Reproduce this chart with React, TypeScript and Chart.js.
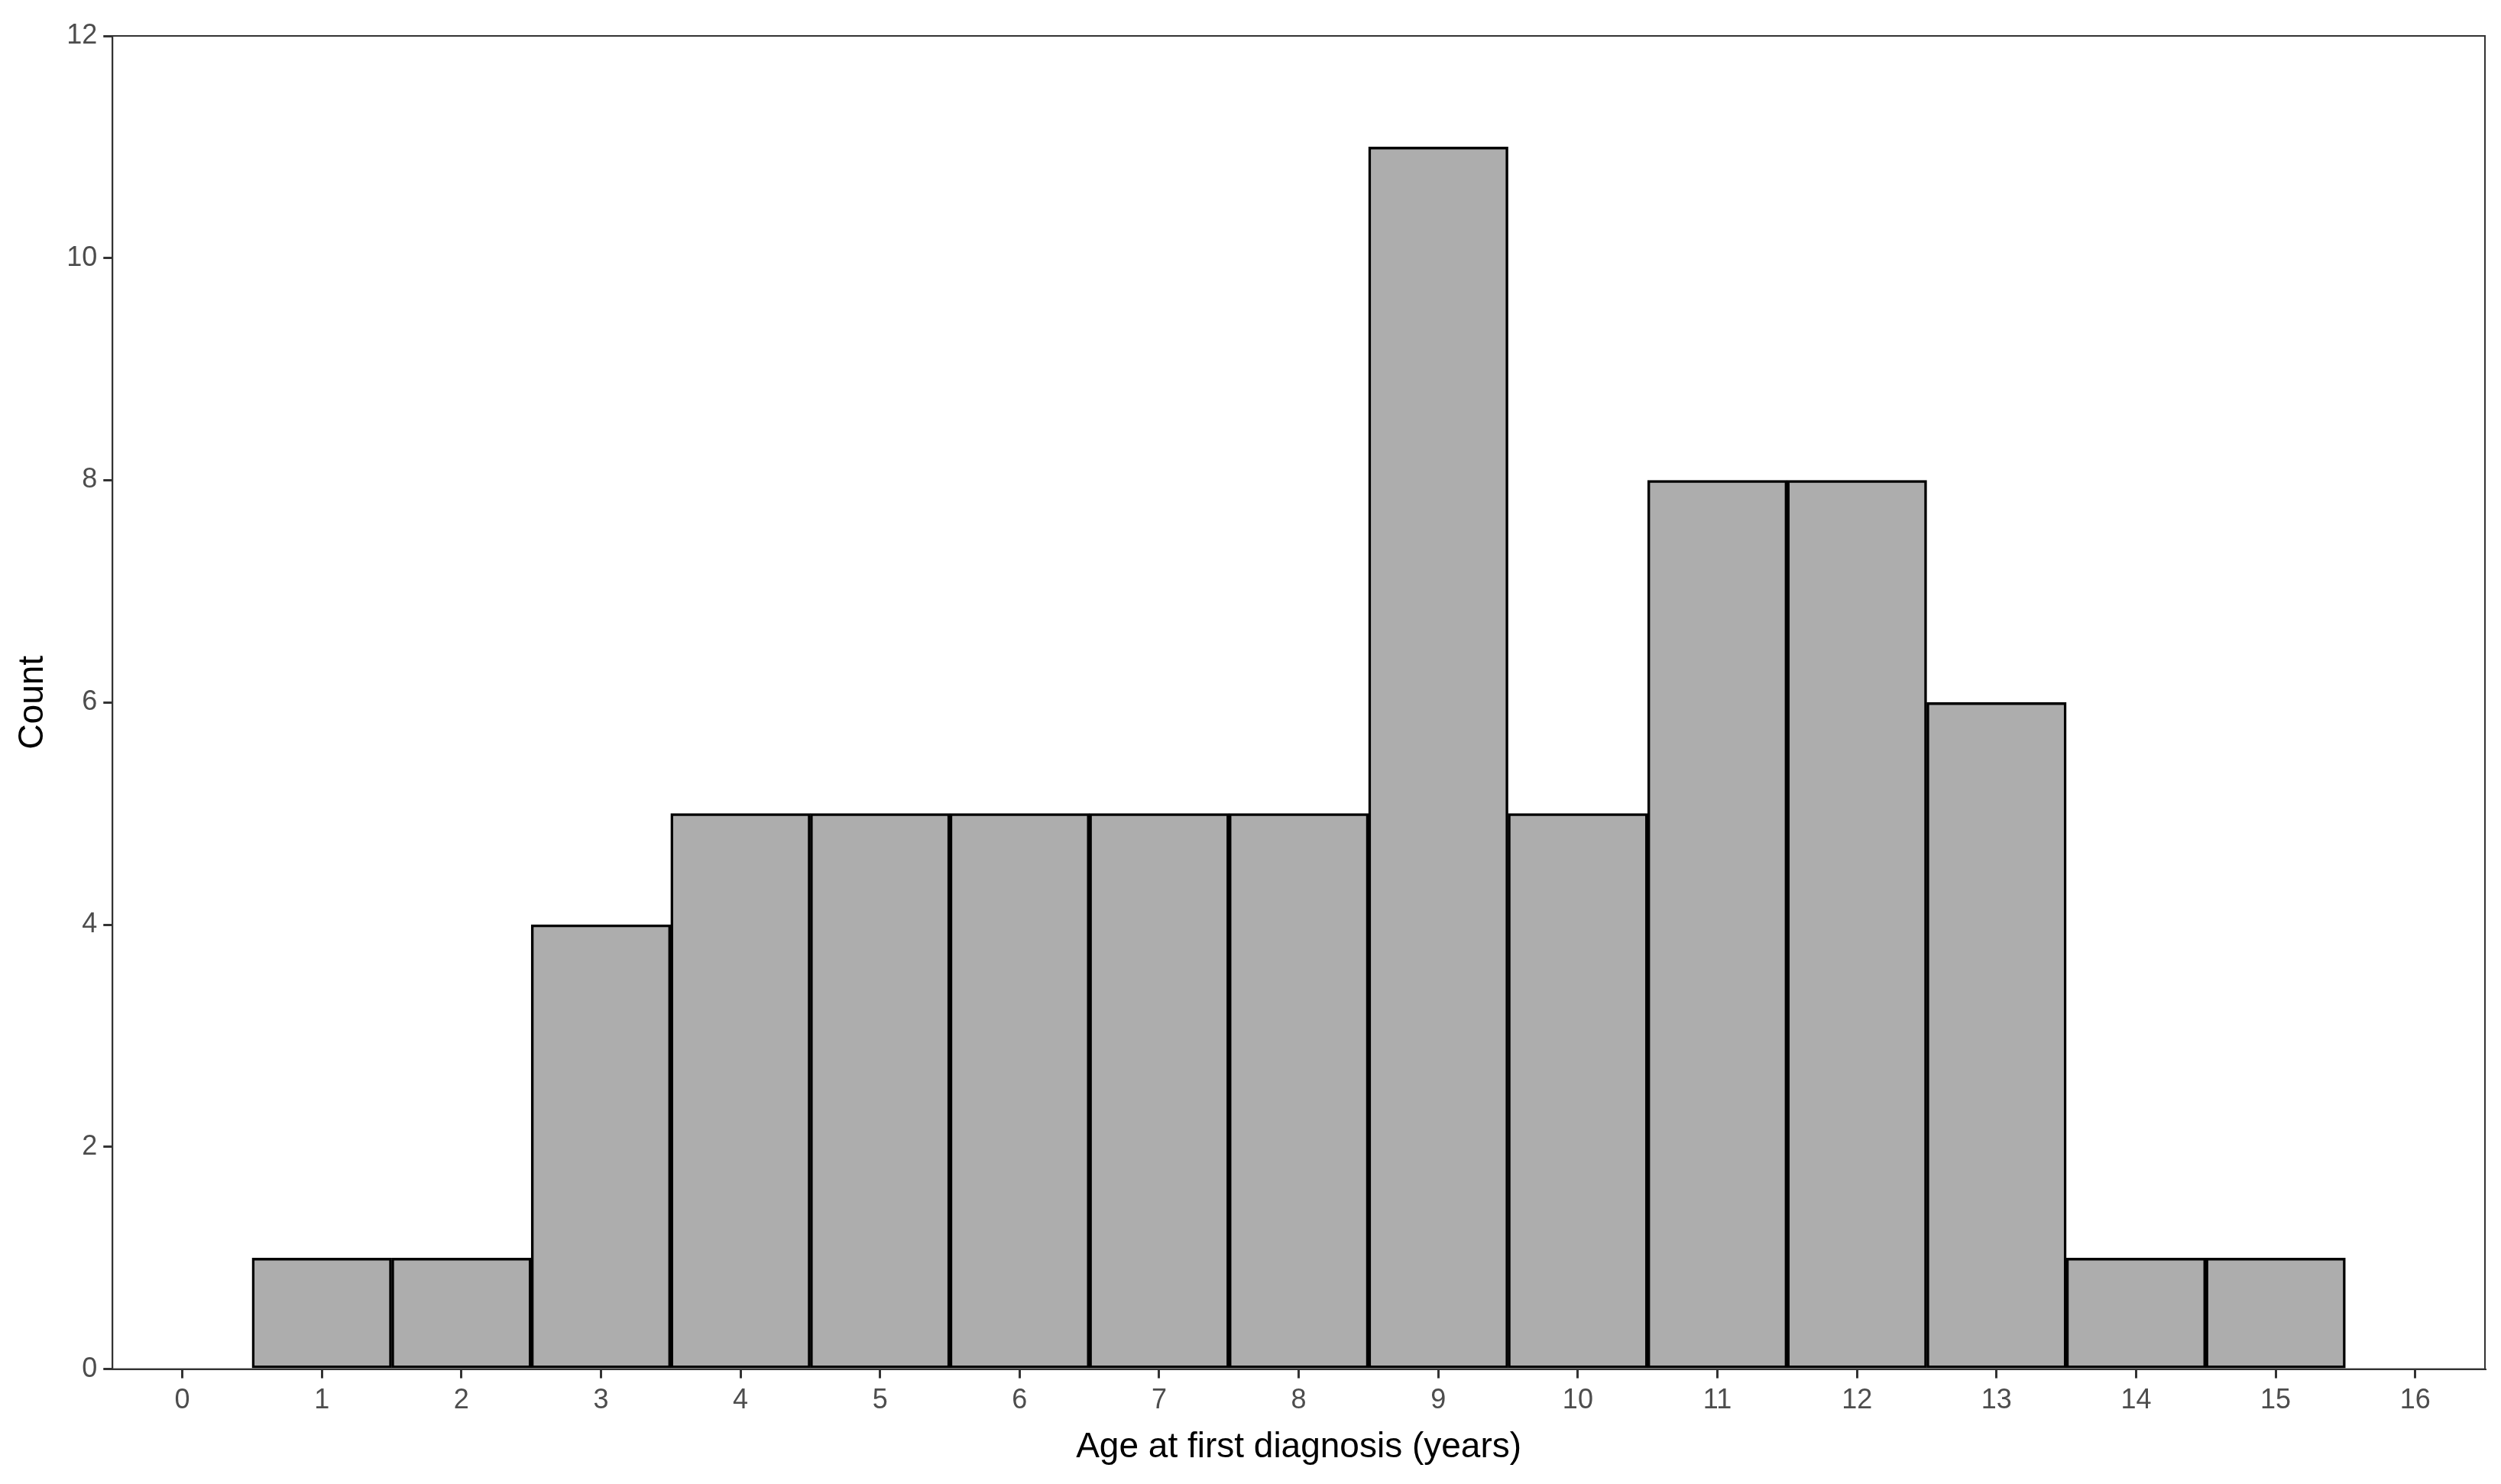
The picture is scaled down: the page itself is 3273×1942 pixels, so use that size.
import React, { useEffect, useRef } from "react";
import { Chart, registerables } from "chart.js";

Chart.register(...registerables);

const ageLabels: string[] = ["0","1","2","3","4","5","6","7","8","9","10","11","12","13","14","15","16"];
const counts: (number | null)[] = [null, 1, 1, 4, 5, 5, 5, 5, 5, 11, 5, 8, 8, 6, 1, 1, null];
const yMin = 0;
const yMax = 12;
const yStep = 2;
const xTitle = "Age at first diagnosis (years)";
const yTitle = "Count";

const W = 3273;
const H = 1942;

const frame = {
  id: "frame",
  afterDatasetsDraw(chart: any) {
    const { ctx, chartArea } = chart;
    ctx.save();
    ctx.strokeStyle = "#333333";
    ctx.lineWidth = 2;
    ctx.strokeRect(chartArea.left, chartArea.top, chartArea.right - chartArea.left, chartArea.bottom - chartArea.top);
    ctx.restore();
  },
};

export default function App() {
  const ref = useRef<HTMLCanvasElement | null>(null);
  useEffect(() => {
    document.body.style.margin = "0";
    const c = ref.current!;
    const chart = new Chart(c, {
      type: "bar",
      data: {
        labels: ageLabels,
        datasets: [
          {
            data: counts,
            backgroundColor: "#adadad",
            borderColor: "#000000",
            borderWidth: 3.5,
            barPercentage: 1,
            categoryPercentage: 1,
            borderSkipped: false,
          },
        ],
      },
      options: {
        animation: false,
        responsive: false,
        devicePixelRatio: 1,
        layout: { padding: { left: 16, right: 21, top: 47, bottom: 20 } },
        plugins: { legend: { display: false }, tooltip: { enabled: false } },
        scales: {
          x: {
            offset: true,
            grid: { display: true, drawOnChartArea: false, drawTicks: true, tickLength: 12, tickColor: "#333333", lineWidth: 3, offset: false },
            border: { display: true, color: "#333333", width: 2 },
            ticks: { color: "#4d4d4d", font: { family: "Liberation Sans, Arial", size: 36 }, padding: 8, maxRotation: 0 },
            title: { display: true, text: xTitle, color: "#000000", font: { family: "Liberation Sans, Arial", size: 46 }, padding: { top: 4, bottom: 0 } },
          },
          y: {
            min: yMin,
            max: yMax,
            ticks: { stepSize: yStep, color: "#4d4d4d", font: { family: "Liberation Sans, Arial", size: 36 }, padding: 8 },
            grid: { display: true, drawOnChartArea: false, drawTicks: true, tickLength: 12, tickColor: "#333333", lineWidth: 3 },
            border: { display: true, color: "#333333", width: 2 },
            title: { display: true, text: yTitle, color: "#000000", font: { family: "Liberation Sans, Arial", size: 46 }, padding: { top: 0, bottom: 8 } },
          },
        },
      },
      plugins: [frame],
    });
    return () => chart.destroy();
  }, []);
  return (
    <div style={{ width: W, height: H, background: "#ffffff" }}>
      <canvas ref={ref} width={W} height={H} style={{ display: "block", width: W, height: H }} />
    </div>
  );
}
